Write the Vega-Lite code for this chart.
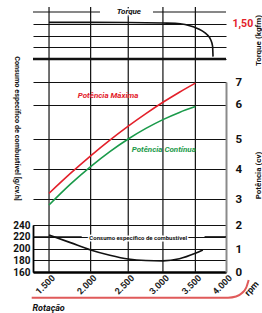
{
"$schema":"https://vega.github.io/schema/vega-lite/v6.json",
"width":193,"height":265,
"autosize":{"type":"none"},
"padding":{"left":33,"top":7,"right":36,"bottom":41},
"background":"white",
"config":{"view":{"stroke":null},"font":"Roboto","axis":{"labelFont":"Roboto","titleFont":"Roboto"}},
"encoding":{
 "x":{"field":"rpm","type":"quantitative","scale":{"type":"pow","exponent":0.6,"domain":[1323,4000],"nice":false,"zero":false},
  "axis":{"values":[1500,2000,2500,3000,3500,4000],"labelExpr":"replace(format(datum.value, ','), ',', '.')","labelAngle":-45,"labelAlign":"right","labelBaseline":"middle","labelFontSize":9,"labelFontWeight":"bold","labelColor":"#222","labelPadding":4,"labelOffset":4,"labelFlush":false,"labelBound":false,"labelOverlap":false,"ticks":false,"grid":false,"domainColor":"#000","domainWidth":2.5,"title":"Rotação","titleAnchor":"start","titleAlign":"left","titleX":-1,"titleY":38,"titleBaseline":"alphabetic","titleFontSize":9,"titleFontStyle":"italic","titleFontWeight":"bold","titleColor":"#111"}}
},
"layer":[
 {"data":{"values":[{"rpm":1500},{"rpm":2000},{"rpm":2500},{"rpm":3000},{"rpm":3500}]},
  "mark":{"type":"rule","color":"#111","strokeWidth":1.2}},
 {"encoding":{
   "y":{"field":"t","type":"quantitative","scale":{"domain":[1.35,1.55],"range":[52,5],"nice":false,"zero":false},
    "axis":{"orient":"right","values":[1.35,1.4,1.45,1.5],"labelExpr":"datum.value == 1.5 ? '1,50' : ''","labelColor":"#e3202a","labelFontSize":10.5,"labelFontWeight":"bold","labelPadding":6,"ticks":false,"domain":false,"grid":true,"gridColor":"#111","gridWidth":1.2,"title":"Torque (kgfm)","titleAngle":270,"titleX":34.5,"titleY":33,"titleAlign":"center","titleBaseline":"alphabetic","titleFontSize":8,"titleFontWeight":"bold","titleColor":"#111"}}},
  "layer":[
   {"data":{"values":[{"rpm":1500,"t":1.506},{"rpm":2000,"t":1.506},{"rpm":2500,"t":1.505},{"rpm":3000,"t":1.503},{"rpm":3186,"t":1.502},{"rpm":3338,"t":1.497},{"rpm":3479,"t":1.486},{"rpm":3609,"t":1.470},{"rpm":3690,"t":1.453},{"rpm":3747,"t":1.432},{"rpm":3777,"t":1.406},{"rpm":3785,"t":1.36}]},
    "mark":{"type":"line","color":"#111","strokeWidth":1.6,"interpolate":"monotone"}},
   {"data":{"values":[{"rpm":1323,"rpm2":2120,"t":1.55},{"rpm":2853,"rpm2":4000,"t":1.55},{"rpm":1323,"rpm2":4000,"t":1.35}]},
    "mark":{"type":"rule","color":"#111"},
    "encoding":{"x2":{"field":"rpm2"},"strokeWidth":{"condition":{"test":"datum.t < 1.4","value":2.5},"value":1.2}}},
   {"data":{"values":[{"rpm":2510,"t":1.55,"txt":"Torque"}]},
    "mark":{"type":"text","fontStyle":"italic","fontWeight":"bold","fontSize":8,"color":"white","stroke":"white","strokeWidth":3,"align":"center","baseline":"middle"},
    "encoding":{"text":{"field":"txt"}}},
   {"data":{"values":[{"rpm":2510,"t":1.55,"txt":"Torque"}]},
    "mark":{"type":"text","fontStyle":"italic","fontWeight":"bold","fontSize":8,"color":"#111","align":"center","baseline":"middle"},
    "encoding":{"text":{"field":"txt"}}}
  ]},
 {"encoding":{
   "y":{"field":"p","type":"quantitative","scale":{"domain":[0,1,2,3,4,5,6,7],"range":[265,242,218,192,162,132,97.5,75],"nice":false,"zero":false},
    "axis":{"orient":"right","values":[0,1,2,3,4,5,6,7],"labelFontSize":11.5,"labelFontWeight":"bold","labelColor":"#111","labelPadding":9,"ticks":false,"domainColor":"#8a8a8a","domainWidth":2,"grid":true,"gridColor":"#111","gridWidth":1.2,"title":"Potência (cv)","titleAngle":270,"titleX":34.5,"titleY":168,"titleAlign":"center","titleBaseline":"alphabetic","titleFontSize":8,"titleFontWeight":"bold","titleColor":"#111"}},
   "color":{"field":"serie","type":"nominal","scale":{"domain":["Potência Máxima","Potência Contínua"],"range":["#e3202a","#1a9a4a"]},"legend":null}},
  "layer":[
   {"data":{"values":[
     {"rpm":1500,"p":3.19,"serie":"Potência Máxima"},{"rpm":1750,"p":3.853,"serie":"Potência Máxima"},{"rpm":2000,"p":4.44,"serie":"Potência Máxima"},{"rpm":2250,"p":4.963,"serie":"Potência Máxima"},{"rpm":2500,"p":5.374,"serie":"Potência Máxima"},{"rpm":2750,"p":5.736,"serie":"Potência Máxima"},{"rpm":3000,"p":6.098,"serie":"Potência Máxima"},{"rpm":3250,"p":6.547,"serie":"Potência Máxima"},{"rpm":3500,"p":6.951,"serie":"Potência Máxima"},
     {"rpm":1500,"p":2.769,"serie":"Potência Contínua"},{"rpm":1750,"p":3.493,"serie":"Potência Contínua"},{"rpm":2000,"p":4.08,"serie":"Potência Contínua"},{"rpm":2250,"p":4.58,"serie":"Potência Contínua"},{"rpm":2500,"p":5.0,"serie":"Potência Contínua"},{"rpm":2750,"p":5.307,"serie":"Potência Contínua"},{"rpm":3000,"p":5.562,"serie":"Potência Contínua"},{"rpm":3250,"p":5.771,"serie":"Potência Contínua"},{"rpm":3500,"p":5.939,"serie":"Potência Contínua"}]},
    "mark":{"type":"line","strokeWidth":1.6,"interpolate":"monotone"}},
   {"data":{"values":[{"rpm":2226,"p":6.36,"serie":"Potência Máxima"},{"rpm":3012,"p":4.65,"serie":"Potência Contínua"}]},
    "mark":{"type":"text","fontStyle":"italic","fontWeight":"bold","fontSize":8,"align":"center","baseline":"middle"},
    "encoding":{"text":{"field":"serie"}}}
  ]},
 {"encoding":{
   "y":{"field":"g","type":"quantitative","scale":{"domain":[160,240],"range":[265,218],"nice":false,"zero":false},
    "axis":{"orient":"left","values":[160,180,200,220,240],"labelFontSize":10,"labelFontWeight":"bold","labelColor":"#111","labelPadding":3,"ticks":false,"domainColor":"#000","domainWidth":1.8,"grid":true,"gridColor":"#111","gridWidth":1.2,"title":"Consumo específico de combustível [g/cv.h]","titleAngle":90,"titleX":-17,"titleY":121,"titleAlign":"center","titleBaseline":"middle","titleFontSize":7.3,"titleFontWeight":"bold","titleColor":"#111"}}},
  "layer":[
   {"data":{"values":[{"rpm":1500,"g":223},{"rpm":1750,"g":210},{"rpm":2000,"g":197.5},{"rpm":2250,"g":188.5},{"rpm":2500,"g":182},{"rpm":2750,"g":179.5},{"rpm":3000,"g":179},{"rpm":3250,"g":182.5},{"rpm":3500,"g":191.8},{"rpm":3620,"g":197.4}]},
    "mark":{"type":"line","color":"#111","strokeWidth":1.6,"interpolate":"monotone"}},
   {"data":{"values":[{"rpm":1323,"rpm2":1888,"g":220},{"rpm":3647,"rpm2":4000,"g":220}]},
    "mark":{"type":"rule","color":"#111","strokeWidth":1.2},
    "encoding":{"x2":{"field":"rpm2"}}},
   {"data":{"values":[{"rpm":1309,"g":116.3},{"rpm":4034,"g":116.3},{"rpm":4170,"g":118.3},{"rpm":4272,"g":124.3},{"rpm":4342,"g":132.8},{"rpm":4387,"g":146.4}]},
    "mark":{"type":"line","color":"#e05a5a","strokeWidth":2,"interpolate":"monotone"}},
   {"data":{"values":[{"rpm":2640,"g":218,"txt":"Consumo específico de combustível"}]},
    "mark":{"type":"text","fontWeight":"bold","fontSize":6,"color":"white","stroke":"white","strokeWidth":3,"align":"center","baseline":"middle"},
    "encoding":{"text":{"field":"txt"}}},
   {"data":{"values":[{"rpm":2640,"g":218,"txt":"Consumo específico de combustível"}]},
    "mark":{"type":"text","fontWeight":"bold","fontSize":6,"color":"#111","align":"center","baseline":"middle"},
    "encoding":{"text":{"field":"txt"}}},
   {"data":{"values":[{"rpm":4440,"g":132,"txt":"rpm"}]},
    "mark":{"type":"text","fontWeight":"bold","fontSize":9,"color":"#111","align":"center","baseline":"middle","angle":312},
    "encoding":{"text":{"field":"txt"}}}
  ]}
],
"resolve":{"scale":{"y":"independent"},"axis":{"y":"independent"}}
}
